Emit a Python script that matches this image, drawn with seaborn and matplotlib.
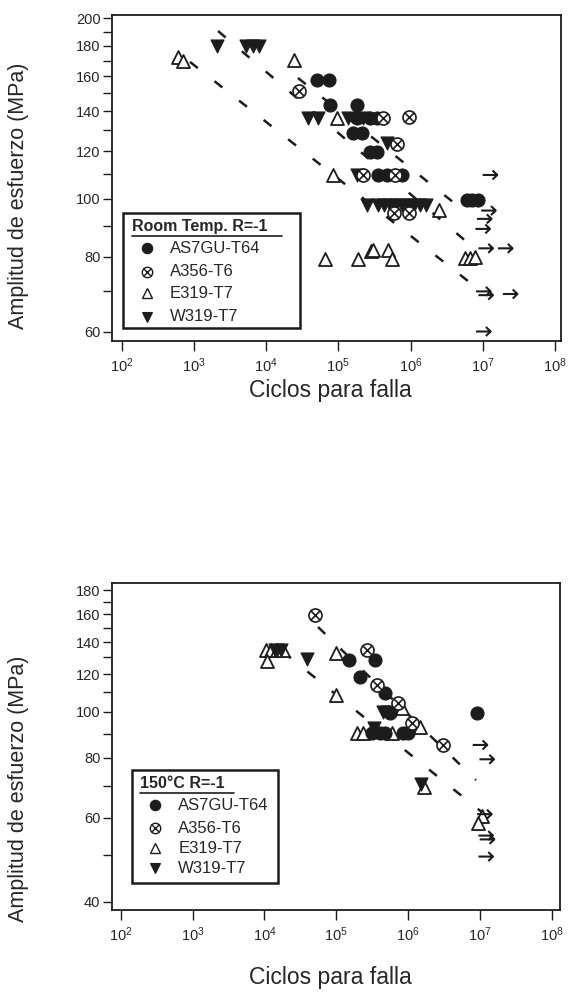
import matplotlib
matplotlib.use("Agg")
import matplotlib.pyplot as plt
import seaborn as sns
import numpy as np
from matplotlib.ticker import FixedLocator, NullFormatter, FuncFormatter
from matplotlib.patches import Rectangle
from matplotlib.lines import Line2D
from matplotlib.path import Path

# ---------------- data: room temperature, R=-1 ----------------
rt_as7gu_N = [50000, 75000, 77000, 180000, 180000, 275000, 340000, 161000, 211000,
              275000, 340000, 358000, 468000, 755000, 6.0e6, 7.2e6, 8.5e6]
rt_as7gu_S = [158, 158, 143.5, 143.5, 136.5, 136.5, 136.5, 128.5, 128.5,
              119.5, 119.5, 109.5, 109.5, 109.5, 99.5, 99.5, 99.5]

rt_a356_N = [28500, 420000, 960000, 644000, 222000, 609000, 600000, 960000]
rt_a356_S = [151, 136.5, 137, 123.5, 109.5, 109.5, 94.5, 94.5]

rt_e319_N = [600, 700, 24500, 95000, 85000, 2.5e6, 65000, 190000, 280000, 300000,
             490000, 550000, 5.7e6, 6.7e6, 7.8e6]
rt_e319_S = [172, 170, 170.5, 136.5, 109.5, 95.7, 79.3, 79.3, 81.8, 82.2,
             82.1, 79.3, 79.5, 79.5, 80.0]

rt_w319_N = [2100, 5200, 6500, 8000, 38000, 52000, 138000, 222000, 468000, 180000,
             247000, 360000, 430000, 520000, 630000, 760000, 920000, 1.1e6, 1.35e6, 1.65e6]
rt_w319_S = [180, 180, 180, 180, 136.5, 136.5, 136.5, 136.5, 124, 109.5,
             97.5, 97.5, 97.5, 97.5, 97.5, 97.5, 97.5, 97.5, 97.5, 97.5]

rt_runout_N = [1.26e7, 1.2e7, 1.05e7, 1.0e7, 1.1e7, 2.05e7, 1.02e7, 1.1e7, 2.4e7, 1.02e7]
rt_runout_S = [109.5, 95.5, 92.5, 89.0, 82.6, 82.6, 70.0, 69.0, 69.3, 60.0]

rt_fit_N = [[883, 1.01e7], [2160, 6.27e6], [27600, 5.33e6]]
rt_fit_S = [[169.1, 69.6], [190.4, 84.3], [159.0, 95.7]]

# ---------------- data: 150 C, R=-1 ----------------
ht_as7gu_N = [150000, 346000, 214000, 476000, 558000, 311000, 406000, 476000, 860000, 1.0e6, 9.0e6]
ht_as7gu_S = [128.4, 128.4, 118.5, 109.3, 99.5, 90.1, 90.1, 90.1, 90.1, 90.1, 99.3]

ht_a356_N = [50600, 265000, 365000, 730000, 1.12e6, 3.08e6]
ht_a356_S = [159.6, 134.8, 113.8, 104.2, 94.6, 85.2]

ht_e319_N = [10500, 12500, 15000, 18000, 11000, 100000, 100000, 192000, 238000, 590000,
             820000, 1.45e6, 1.65e6, 1.05e7, 0.95e7]
ht_e319_S = [135, 135, 135, 135, 128, 133, 108.5, 90.1, 90.1, 90.1,
             102, 93, 69.5, 60.5, 58.5]

ht_w319_N = [14000, 17000, 38700, 447000, 520000, 340000, 1.5e6]
ht_w319_S = [135, 135, 129, 100, 100, 92.5, 70.5]

ht_runout_N = [1.0e7, 1.24e7, 1.15e7, 1.2e7, 1.25e7, 1.2e7]
ht_runout_S = [85.2, 79.5, 61.0, 55.0, 54.0, 49.7]

ht_fit_N = [[55700, 8.8e6], [18200, 1.18e7]]
ht_fit_S = [[150.6, 71.9], [133.5, 60.8]]

legend_labels = ["AS7GU-T64", "A356-T6", "E319-T7", "W319-T7"]
x_ticks = [1e2, 1e3, 1e4, 1e5, 1e6, 1e7, 1e8]

# ---------------- style ----------------
sns.set_theme(style="white")
plt.rcParams["font.family"] = ["Liberation Sans", "DejaVu Sans"]
plt.rcParams["mathtext.fontset"] = "custom"
plt.rcParams["mathtext.rm"] = "Liberation Sans"
plt.rcParams["mathtext.it"] = "Liberation Sans:italic"
plt.rcParams["mathtext.bf"] = "Liberation Sans:bold"

INK = "#1c1c1c"
TXT = "#262626"

ARROW = Path([(-1.0, 0.0), (1.0, 0.0), (0.35, 0.62), (1.0, 0.0), (0.35, -0.62)],
             [Path.MOVETO, Path.LINETO, Path.MOVETO, Path.LINETO, Path.LINETO])

fig = plt.figure(figsize=(5.68, 9.97), dpi=100)
fig.patch.set_facecolor("white")

ax1 = fig.add_axes([112.3 / 568, 1 - 341 / 997, 448.4 / 568, 326 / 997])
ax2 = fig.add_axes([112.3 / 568, 1 - 910 / 997, 447.7 / 568, 327.3 / 997])

MS = 88


def draw(ax, as7N, as7S, a356N, a356S, e319N, e319S, w319N, w319S, roN, roS, fitN, fitS):
    ax.set_xscale("log")
    ax.set_yscale("log")
    for n, s in zip(fitN, fitS):
        sns.lineplot(x=n, y=s, ax=ax, color=INK, lw=1.8, linestyle=(0, (4.0, 8.5)),
                     estimator=None, sort=False, zorder=1)
    sns.scatterplot(x=e319N, y=e319S, ax=ax, marker="^", s=MS, color="white",
                    edgecolor=INK, linewidth=1.3, zorder=3, legend=False)
    sns.scatterplot(x=as7N, y=as7S, ax=ax, marker="o", s=MS, color=INK,
                    edgecolor=INK, linewidth=0.8, zorder=4, legend=False)
    sns.scatterplot(x=w319N, y=w319S, ax=ax, marker="v", s=MS, color=INK,
                    edgecolor=INK, linewidth=0.8, zorder=4, legend=False)
    sns.scatterplot(x=a356N, y=a356S, ax=ax, marker="o", s=MS, color="white",
                    edgecolor=INK, linewidth=1.2, zorder=5, legend=False)
    sns.scatterplot(x=a356N, y=a356S, ax=ax, marker="x", s=40, color=INK,
                    linewidth=1.2, zorder=6, legend=False)
    sns.scatterplot(x=roN, y=roS, ax=ax, marker=ARROW, s=110, facecolor="none",
                    edgecolor=INK, linewidth=1.5, zorder=6, legend=False)


draw(ax1, rt_as7gu_N, rt_as7gu_S, rt_a356_N, rt_a356_S, rt_e319_N, rt_e319_S,
     rt_w319_N, rt_w319_S, rt_runout_N, rt_runout_S, rt_fit_N, rt_fit_S)
draw(ax2, ht_as7gu_N, ht_as7gu_S, ht_a356_N, ht_a356_S, ht_e319_N, ht_e319_S,
     ht_w319_N, ht_w319_S, ht_runout_N, ht_runout_S, ht_fit_N, ht_fit_S)

ax1.set_xlim(10 ** 1.870, 10 ** 8.080)
ax1.set_ylim(57.85, 202.5)
ax2.set_xlim(10 ** 1.883, 10 ** 8.113)
ax2.set_ylim(38.4, 186.5)

fmt = FuncFormatter(lambda v, p: "%d" % round(v))
xfmt = FuncFormatter(lambda v, p: r"$10^{%d}$" % round(np.log10(v)))

for ax, maj, mnr, ylc in [
    (ax1, [60, 80, 100, 120, 140, 160, 180, 200], [70, 90, 110, 130, 150, 170, 190], 0.445),
    (ax2, [40, 60, 80, 100, 120, 140, 160, 180], [50, 70, 90, 110, 130, 150, 170], 0.37),
]:
    ax.yaxis.set_major_locator(FixedLocator(maj))
    ax.yaxis.set_minor_locator(FixedLocator(mnr))
    ax.yaxis.set_major_formatter(fmt)
    ax.yaxis.set_minor_formatter(NullFormatter())
    ax.xaxis.set_major_locator(FixedLocator(x_ticks))
    ax.xaxis.set_minor_locator(FixedLocator([]))
    ax.xaxis.set_major_formatter(xfmt)
    ax.tick_params(axis="y", which="both", direction="out", length=6.5, width=1.0,
                   color=INK, left=True, labelsize=10.5, labelcolor=TXT, pad=2)
    ax.tick_params(axis="x", which="major", direction="out", length=7.0, width=1.0,
                   color=INK, bottom=True, labelsize=10.5, labelcolor=TXT, pad=4)
    for sp in ax.spines.values():
        sp.set_visible(True)
        sp.set_color(INK)
        sp.set_linewidth(1.3)
    ax.set_facecolor("white")
    ax.set_ylabel("Amplitud de esfuerzo (MPa)", fontsize=15.5, color=TXT)
    ax.yaxis.set_label_coords(-0.185, ylc)
    ax.set_xlabel("Ciclos para falla", fontsize=16.5, color=TXT)

ax1.xaxis.set_label_coords(0.486, -0.116)
ax2.xaxis.set_label_coords(0.486, -0.172)


def legend_box(ax, x0, x1, y0, y1, title, title_y, ul_y, ul_x1, tx_title, ys, mx, tx):
    ax.add_patch(Rectangle((x0, y0), x1 - x0, y1 - y0, transform=ax.transAxes,
                           facecolor="white", edgecolor=INK, lw=1.8, zorder=8))
    ax.text(tx_title, title_y, title, transform=ax.transAxes, fontsize=11.5,
            fontweight="bold", color=TXT, va="center", ha="left", zorder=9)
    ax.add_line(Line2D([tx_title, ul_x1], [ul_y, ul_y], transform=ax.transAxes,
                       color=INK, lw=1.2, zorder=9))
    specs = [
        dict(marker="o", ms=7.5, mfc=INK, mec=INK, mew=0.8),
        dict(marker="o", ms=7.5, mfc="white", mec=INK, mew=1.0),
        dict(marker="^", ms=7.5, mfc="white", mec=INK, mew=1.0),
        dict(marker="v", ms=7.5, mfc=INK, mec=INK, mew=0.8),
    ]
    for y, lab, sp in zip(ys, legend_labels, specs):
        ax.add_line(Line2D([mx], [y], transform=ax.transAxes, ls="none", zorder=9, **sp))
        if lab == "A356-T6":
            ax.add_line(Line2D([mx], [y], transform=ax.transAxes, ls="none", marker="x",
                               ms=5.2, mec=INK, mew=1.0, zorder=10))
        ax.text(tx, y, lab, transform=ax.transAxes, fontsize=12, color=TXT,
                va="center", ha="left", zorder=9)


legend_box(ax1, 0.0245, 0.4186, 0.039, 0.3917, "Room Temp. R=-1", 0.350, 0.322, 0.378,
           0.043, [0.2844, 0.2126, 0.1463, 0.0745], 0.0767, 0.1287)
legend_box(ax2, 0.0447, 0.3708, 0.0816, 0.4277, "150\u00b0C R=-1", 0.388, 0.357, 0.272,
           0.062, [0.3208, 0.2496, 0.1885, 0.1274], 0.0954, 0.1474)

fig.savefig("out.png", dpi=100, facecolor="white")
